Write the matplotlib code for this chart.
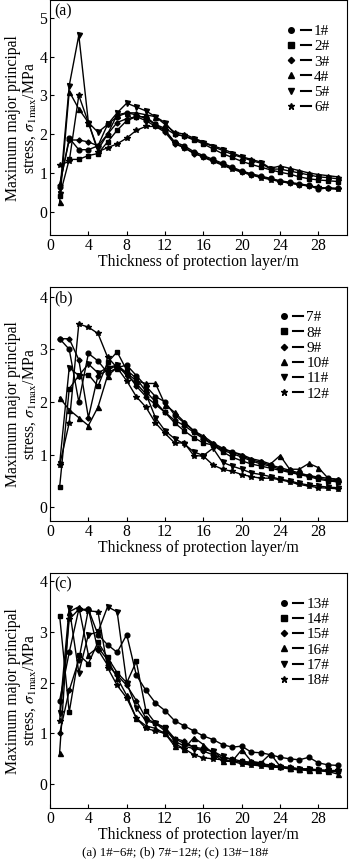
import matplotlib.pyplot as plt
from matplotlib.lines import Line2D
from matplotlib.legend_handler import HandlerTuple
import numpy as np

plt.rcParams['font.family'] = ['Liberation Serif', 'DejaVu Serif']
plt.rcParams['mathtext.fontset'] = 'stix'
plt.rcParams['font.size'] = 11.3

# thickness of protection layer, m
thickness = np.arange(1, 31)

# (a) 1# - 6#
s1 = [0.65, 1.9, 1.6, 1.6, 1.7, 2.25, 2.45, 2.55, 2.5, 2.4, 2.25, 2.1, 1.8, 1.7, 1.55,
      1.45, 1.35, 1.25, 1.15, 1.05, 0.98, 0.92, 0.86, 0.8, 0.76, 0.72, 0.68, 0.58, 0.62, 0.6]
s2 = [0.4, 1.35, 1.35, 1.45, 1.5, 1.8, 2.1, 2.35, 2.45, 2.45, 2.25, 2.15, 2.0, 1.95, 1.85,
      1.75, 1.62, 1.5, 1.4, 1.3, 1.22, 1.15, 1.08, 1.02, 0.97, 0.9, 0.85, 0.82, 0.8, 0.78]
s3 = [0.7, 1.85, 1.85, 1.8, 1.7, 2.0, 2.3, 2.4, 2.45, 2.35, 2.2, 2.05, 1.75, 1.65, 1.5,
      1.42, 1.32, 1.22, 1.12, 1.03, 0.95, 0.9, 0.84, 0.78, 0.74, 0.7, 0.67, 0.63, 0.6, 0.6]
s4 = [0.25, 3.1, 2.65, 2.3, 1.6, 2.0, 2.5, 2.55, 2.55, 2.5, 2.45, 2.25, 2.05, 2.0, 1.9,
      1.8, 1.7, 1.62, 1.52, 1.42, 1.35, 1.28, 1.12, 1.18, 1.12, 1.06, 1.0, 0.96, 0.93, 0.9]
s5 = [0.45, 3.25, 4.55, 2.3, 2.05, 2.25, 2.55, 2.8, 2.7, 2.6, 2.45, 2.3, 2.0, 1.95, 1.88,
      1.78, 1.68, 1.58, 1.48, 1.4, 1.32, 1.25, 1.1, 1.1, 1.05, 1.0, 0.95, 0.9, 0.88, 0.85]
s6 = [1.2, 1.3, 3.0, 2.3, 1.55, 1.65, 1.75, 1.9, 2.1, 2.2, 2.2, 2.1, 1.78, 1.65, 1.52,
      1.4, 1.3, 1.2, 1.1, 1.02, 0.95, 0.88, 0.83, 0.78, 0.74, 0.7, 0.66, 0.63, 0.6, 0.58]

# (b) 7# - 12#
s7 = [3.2, 3.0, 2.0, 2.92, 2.78, 2.55, 2.65, 2.7, 2.5, 2.3, 2.1, 2.0, 1.75, 1.6, 1.45,
      1.32, 1.2, 1.1, 1.05, 0.98, 0.9, 0.85, 0.8, 0.75, 0.7, 0.65, 0.6, 0.57, 0.55, 0.52]
s8 = [0.38, 2.25, 2.5, 2.52, 2.3, 2.75, 2.95, 2.6, 2.45, 2.2, 2.0, 1.8, 1.6, 1.45, 1.32,
      1.22, 1.18, 1.05, 0.95, 0.88, 0.82, 0.78, 0.74, 0.7, 0.66, 0.62, 0.58, 0.53, 0.5, 0.48]
s9 = [3.2, 3.2, 2.8, 1.7, 2.5, 2.6, 2.7, 2.55, 2.3, 2.1, 1.95, 1.8, 1.65, 1.55, 1.42,
      1.3, 1.18, 1.08, 1.02, 0.95, 0.88, 0.82, 0.78, 0.72, 0.68, 0.63, 0.6, 0.55, 0.52, 0.5]
s10 = [2.08, 1.85, 1.7, 1.55, 1.9, 2.5, 2.65, 2.55, 2.4, 2.35, 2.35, 1.95, 1.8, 1.62, 1.45,
       1.35, 1.22, 1.12, 1.05, 1.0, 0.92, 0.88, 0.82, 0.98, 0.72, 0.72, 0.83, 0.75, 0.55, 0.53]
s11 = [0.82, 2.65, 2.5, 2.72, 2.55, 2.65, 2.7, 2.5, 2.35, 2.15, 1.7, 1.45, 1.3, 1.2, 1.05,
       0.98, 1.12, 0.85, 0.78, 0.72, 0.65, 0.62, 0.58, 0.53, 0.5, 0.45, 0.42, 0.4, 0.38, 0.37]
s12 = [0.8, 1.6, 3.48, 3.42, 3.3, 2.85, 2.65, 2.4, 2.1, 1.9, 1.6, 1.4, 1.22, 1.22, 0.98,
       0.97, 0.8, 0.72, 0.68, 0.62, 0.58, 0.55, 0.55, 0.52, 0.48, 0.43, 0.4, 0.37, 0.36, 0.35]

# (c) 13# - 18#
s13 = [1.65, 2.6, 3.45, 3.45, 2.95, 2.75, 2.6, 2.95, 2.15, 1.85, 1.6, 1.45, 1.25, 1.15, 1.05,
       0.95, 0.88, 0.78, 0.73, 0.75, 0.63, 0.62, 0.58, 0.53, 0.5, 0.48, 0.53, 0.42, 0.38, 0.37]
s14 = [3.32, 1.42, 2.55, 2.38, 2.8, 2.5, 2.2, 2.0, 2.42, 1.45, 1.2, 1.12, 0.9, 0.8, 0.73,
       0.7, 0.65, 0.5, 0.45, 0.45, 0.43, 0.42, 0.35, 0.33, 0.3, 0.28, 0.27, 0.27, 0.25, 0.25]
s15 = [1.0, 1.85, 2.45, 3.45, 2.65, 2.35, 2.15, 1.95, 1.65, 1.3, 1.2, 1.05, 0.9, 0.85, 0.72,
       0.65, 0.58, 0.52, 0.5, 0.45, 0.42, 0.4, 0.38, 0.35, 0.33, 0.3, 0.28, 0.27, 0.26, 0.25]
s16 = [0.62, 3.4, 3.5, 2.55, 2.7, 2.45, 2.1, 1.75, 1.3, 1.15, 1.1, 1.0, 0.75, 0.7, 0.92,
       0.78, 0.6, 0.45, 0.45, 0.68, 0.45, 0.42, 0.6, 0.35, 0.32, 0.3, 0.28, 0.27, 0.25, 0.2]
s17 = [1.4, 3.48, 2.2, 2.95, 3.0, 3.5, 3.4, 2.0, 1.5, 1.25, 1.2, 1.1, 0.85, 0.75, 0.7,
       0.68, 0.65, 0.55, 0.48, 0.42, 0.4, 0.38, 0.35, 0.33, 0.32, 0.3, 0.3, 0.28, 0.27, 0.26]
s18 = [1.25, 3.25, 3.45, 3.42, 3.4, 2.3, 1.95, 1.7, 1.3, 1.1, 1.05, 1.0, 0.8, 0.7, 0.58,
       0.52, 0.5, 0.48, 0.45, 0.4, 0.38, 0.36, 0.34, 0.33, 0.32, 0.3, 0.3, 0.28, 0.27, 0.27]

panels = [
    ('(a)', [s1, s2, s3, s4, s5, s6], ['1#', '2#', '3#', '4#', '5#', '6#'], (-0.6, 5.45), range(0, 6)),
    ('(b)', [s7, s8, s9, s10, s11, s12], ['7#', '8#', '9#', '10#', '11#', '12#'], (-0.27, 4.19), range(0, 5)),
    ('(c)', [s13, s14, s15, s16, s17, s18], ['13#', '14#', '15#', '16#', '17#', '18#'], (-0.47, 4.16), range(0, 5)),
]
markers = ['o', 's', 'D', '^', 'v', '*']
msizes = [3.4, 3.4, 2.6, 3.6, 3.6, 4.4]

fig = plt.figure(figsize=(3.5, 8.66), dpi=100)
bottoms = [0.7286, 0.398, 0.067]

for (tag, series, names, ylim, yt), b in zip(panels, bottoms):
    ax = fig.add_axes([0.143, b, 0.849, 0.271])
    handles = []
    for y, m, ms in zip(series, markers, msizes):
        ax.plot(thickness, y, color='black', lw=1.0, marker=m, ms=ms)
        handles.append((Line2D([], [], color='black', marker=m, ms=ms + 0.6, ls='none'),
                        Line2D([], [], color='black', lw=1.5)))
    ax.set_xlim(0, 31)
    ax.set_ylim(*ylim)
    ax.set_xticks(range(0, 29, 4))
    ax.set_yticks(list(yt))
    ax.tick_params(direction='in', length=3, top=False, right=False, pad=2)
    ax.set_xlabel('Thickness of protection layer/m', labelpad=0)
    ax.set_ylabel('Maximum major principal\nstress, $\\sigma_{\\rm 1max}$/MPa', labelpad=1, linespacing=1.0)
    ax.text(0.015, 0.985, tag, transform=ax.transAxes, va='top', ha='left')
    ax.legend(handles, names, handler_map={tuple: HandlerTuple(ndivide=None, pad=0.3)},
              loc='upper right', bbox_to_anchor=(0.965, 0.93), frameon=False, fontsize=11,
              handlelength=1.6, handletextpad=0.2, labelspacing=0.1, borderpad=0)

fig.text(0.5, 0.0155, '(a) 1#\u22126#; (b) 7#\u221212#; (c) 13#\u221218#', ha='center', va='center', fontsize=9.3)

plt.savefig('out.png', dpi=100)
